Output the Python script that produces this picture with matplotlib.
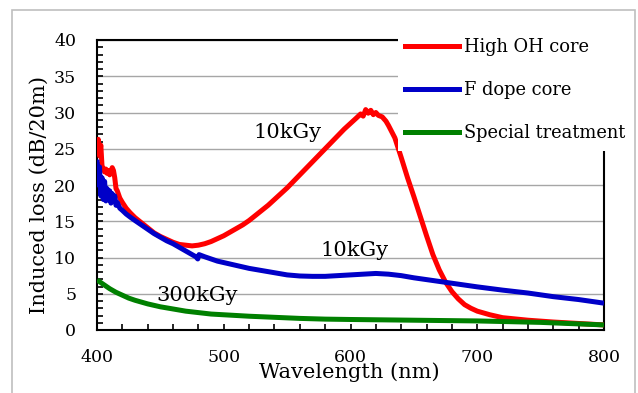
import matplotlib
matplotlib.use("Agg")
import matplotlib.pyplot as plt
from matplotlib.patches import Rectangle
from matplotlib.lines import Line2D

# Wavelength (nm) / induced loss (dB/20m)
wl_red = [400, 401, 402, 403, 404, 405, 406, 407, 408, 409, 410, 411, 412, 413, 414,
          415, 416, 418, 420, 423, 426, 430, 435, 440, 445, 450, 455, 460, 465, 470,
          475, 480, 485, 490, 495, 500, 505, 510, 515, 520, 525, 530, 535, 540, 545,
          550, 555, 560, 565, 570, 575, 580, 585, 590, 595, 600, 605, 608, 610, 612,
          614, 616, 618, 620, 622, 625, 628, 630, 635, 640, 645, 650, 655, 660, 665,
          670, 675, 680, 685, 690, 695, 700, 710, 720, 740, 760, 780, 800]
loss_red = [25.0, 26.3, 24.0, 25.5, 22.5, 22.3, 21.8, 22.2, 21.6, 22.0, 21.4, 21.8, 22.4, 22.0, 21.0,
            19.5, 19.2, 18.2, 17.6, 16.8, 16.2, 15.5, 14.8, 14.1, 13.4, 12.9, 12.5, 12.1, 11.8, 11.7,
            11.6, 11.7, 11.9, 12.2, 12.6, 13.0, 13.5, 14.0, 14.5, 15.1, 15.8, 16.5, 17.2, 18.0, 18.8,
            19.6, 20.5, 21.4, 22.3, 23.2, 24.1, 25.0, 25.9, 26.8, 27.7, 28.5, 29.3, 29.8, 29.5, 30.4,
            29.9, 30.3, 29.7, 30.0, 29.6, 29.4, 28.8, 28.2, 26.5, 23.8, 21.0, 18.4, 15.7, 13.0, 10.4,
            8.3, 6.6, 5.3, 4.3, 3.5, 3.0, 2.6, 2.1, 1.7, 1.35, 1.1, 0.9, 0.7]

wl_blue = [400, 401, 402, 403, 404, 405, 406, 407, 408, 409, 410, 411, 412, 413, 414,
           415, 416, 418, 420, 423, 426, 430, 435, 440, 445, 450, 455, 460, 465, 470,
           475, 478, 479.5, 480.5, 485, 490, 495, 500, 510, 520, 530, 540, 550, 560, 570,
           580, 590, 600, 610, 620, 630, 640, 650, 660, 670, 680, 690, 700, 720, 740,
           760, 780, 800]
loss_blue = [23.5, 20.0, 22.5, 18.5, 21.0, 18.0, 20.5, 17.8, 19.5, 18.0, 19.2, 17.5, 18.8, 17.8, 18.5,
             17.2, 17.6, 16.8, 16.5, 16.0, 15.6, 15.1, 14.5, 13.9, 13.3, 12.8, 12.3, 11.9, 11.4, 10.9,
             10.4, 10.1, 9.8, 10.4, 10.1, 9.8, 9.5, 9.3, 8.9, 8.5, 8.2, 7.9, 7.6, 7.45, 7.4,
             7.4, 7.5, 7.6, 7.7, 7.8, 7.7, 7.5, 7.2, 6.95, 6.7, 6.45, 6.2, 5.95, 5.5, 5.1,
             4.6, 4.2, 3.7]

wl_green = [400, 405, 410, 415, 420, 425, 430, 440, 450, 460, 470, 480, 490, 500, 520,
            540, 560, 580, 600, 650, 700, 750, 800]
loss_green = [6.9, 6.3, 5.7, 5.2, 4.8, 4.4, 4.1, 3.6, 3.2, 2.9, 2.6, 2.4, 2.2, 2.1, 1.9,
              1.75, 1.6, 1.5, 1.45, 1.35, 1.25, 1.05, 0.7]

series_names = ["High OH core", "F dope core", "Special treatment"]
series_colors = ["#ff0000", "#0000c8", "#008000"]

plt.rcParams['font.family'] = ['DejaVu Serif']

fig = plt.figure(figsize=(6.38, 3.93), dpi=100)
ax = fig.add_axes([97 / 638, 63 / 393, 507 / 638, 290 / 393])

ax.plot(wl_red, loss_red, color=series_colors[0], lw=3.6, solid_capstyle='butt', zorder=3)
ax.plot(wl_blue, loss_blue, color=series_colors[1], lw=3.6, solid_capstyle='butt', zorder=4)
ax.plot(wl_green, loss_green, color=series_colors[2], lw=3.6, solid_capstyle='butt', zorder=5)

ax.set_xlim(400, 800)
ax.set_ylim(0, 40)
ax.set_xticks([400, 500, 600, 700, 800])
ax.set_xticks(range(400, 801, 20), minor=True)
ax.set_yticks(range(0, 41, 5))
ax.set_yticks(range(0, 41, 1), minor=True)
ax.tick_params(which='both', direction='in', length=4, width=1.2, labelsize=12.5)
ax.tick_params(axis='x', which='both', pad=14)
ax.tick_params(axis='y', which='both', pad=15)
ax.yaxis.grid(True, color='#a6a6a6', lw=1)
ax.set_axisbelow(True)
for s in ax.spines.values():
    s.set_linewidth(1.5)
    s.set_color('black')

ax.set_xlabel("Wavelength (nm)", fontsize=15)
ax.xaxis.set_label_coords(0.498, -0.11)
ax.set_ylabel("Induced loss (dB/20m)", fontsize=15)
ax.yaxis.set_label_coords(-0.095, 0.466)

ax.text(550, 27.2, "10kGy", fontsize=15, ha='center', va='center')
ax.text(603, 11.0, "10kGy", fontsize=15, ha='center', va='center')
ax.text(479, 4.7, "300kGy", fontsize=15, ha='center', va='center')

# outer chart border
fig.add_artist(Rectangle((12 / 638, -0.1), 623 / 638, 1.1 - 10 / 393, transform=fig.transFigure,
                         fill=False, edgecolor='#bfbfbf', lw=1.2, zorder=0))
# legend box covers the top right of the plot
fig.add_artist(Rectangle((398 / 638, 1 - 151 / 393), 236 / 638, 140 / 393, transform=fig.transFigure,
                         facecolor='white', edgecolor='none', zorder=10))
handles = [Line2D([], [], color=c, lw=3.6) for c in series_colors]
leg = fig.legend(handles, series_names, loc='upper left', bbox_to_anchor=(405 / 638, 1 - 38 / 393),
                 frameon=False, fontsize=12.9, handlelength=3.0, handletextpad=0.3,
                 labelspacing=1.4, borderaxespad=0, borderpad=0)
leg.set_zorder(11)

fig.savefig("out.png", dpi=100)
